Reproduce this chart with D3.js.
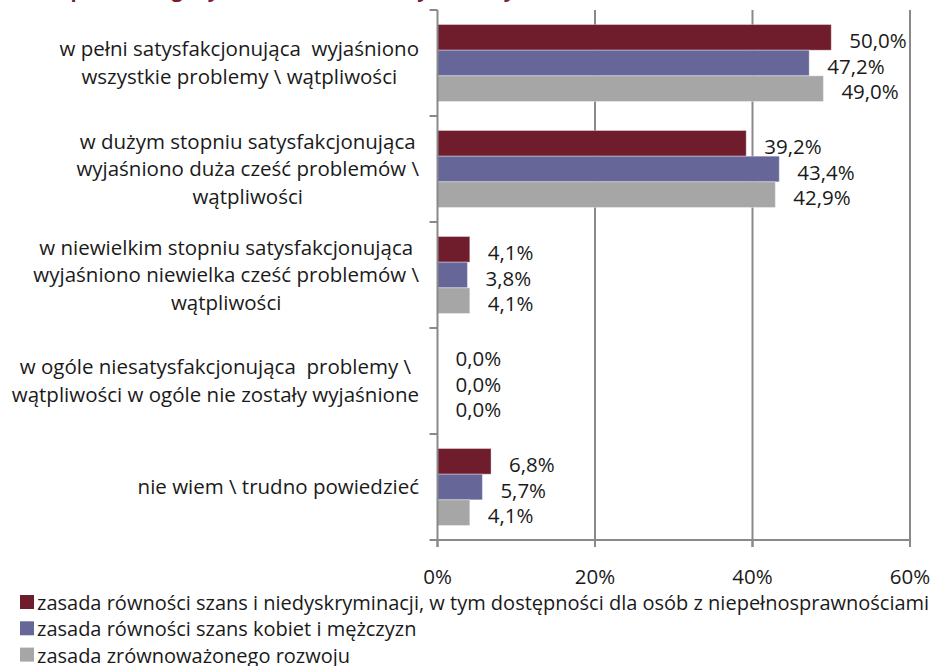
<!DOCTYPE html>
<html><head><meta charset="utf-8">
<script src="https://cdn.jsdelivr.net/npm/d3@7"></script>
<style>
body{margin:0;background:#fff;}
svg{display:block;font-family:"Open Sans",sans-serif;}
text{white-space:pre;}
</style></head>
<body><svg id="c" width="941" height="666"></svg>
<script>
const titleText = "Ocena poziomu zgody na temat zasad horyzontalnych";
const categories = [
  ["w pełni satysfakcjonująca  wyjaśniono","wszystkie problemy \\ wątpliwości"],
  ["w dużym stopniu satysfakcjonująca","wyjaśniono duża cześć problemów \\","wątpliwości"],
  ["w niewielkim stopniu satysfakcjonująca","wyjaśniono niewielka cześć problemów \\","wątpliwości"],
  ["w ogóle niesatysfakcjonująca  problemy \\","wątpliwości w ogóle nie zostały wyjaśnione"],
  ["nie wiem \\ trudno powiedzieć"]
];
const seriesNames = [
  "zasada równości szans i niedyskryminacji, w tym dostępności dla osób z niepełnosprawnościami",
  "zasada równości szans kobiet i mężczyzn",
  "zasada zrównoważonego rozwoju"
];
const s1 = [50.0, 39.2, 4.1, 0.0, 6.8];
const s2 = [47.2, 43.4, 3.8, 0.0, 5.7];
const s3 = [49.0, 42.9, 4.1, 0.0, 4.1];
const xTicks = [0, 20, 40, 60];
const colors = ["#6f1d2d", "#666699", "#a6a6a6"];

const series = [s1, s2, s3];
const svg = d3.select("#c");
const fmt = v => v.toFixed(1).replace(".", ",") + "%";
const catKeys = categories.map((c, i) => i);
const FS = 20.5;
const textColor = "#1a1a1a";

const x = d3.scaleLinear().domain([0, 60]).range([437.5, 910]);
const y = d3.scaleBand().domain(catKeys).range([10, 540]).paddingInner(0.274).paddingOuter(0.137);
const ys = d3.scaleBand().domain([0, 1, 2]).range([0, y.bandwidth()]);
const gridColor = "#898989";

// title (cut off at top)
svg.append("text").attr("x", 2).attr("y", -3)
  .attr("font-size", 20).attr("font-weight", "bold").attr("fill", "#7a1b2f")
  .text(titleText);

// vertical grid lines
svg.append("g").selectAll("line").data(xTicks.slice(1)).join("line")
  .attr("x1", d => x(d)).attr("x2", d => x(d)).attr("y1", 10).attr("y2", 547)
  .attr("stroke", gridColor).attr("stroke-width", 2);

// bars
const gBars = svg.append("g");
series.forEach((vals, si) => {
  gBars.selectAll(null).data(vals).join("rect")
    .attr("x", x(0)).attr("y", (d, i) => y(i) + ys(si))
    .attr("width", d => x(d) - x(0)).attr("height", ys.bandwidth())
    .attr("fill", colors[si]).attr("stroke", "#ffffff").attr("stroke-opacity", 0.35).attr("stroke-width", 1);
  gBars.selectAll(null).data(vals).join("text")
    .attr("x", d => x(d) + 18).attr("y", (d, i) => y(i) + ys(si) + ys.bandwidth() / 2 + 10.5)
    .attr("font-size", FS).attr("fill", textColor)
    .text(d => fmt(d));
});

// left axis
const yAxisG = svg.append("g");
yAxisG.append("line").attr("x1", x(0)).attr("x2", x(0)).attr("y1", 10).attr("y2", 547)
  .attr("stroke", gridColor).attr("stroke-width", 2);
const bounds = catKeys.map(k => y(k) - y.step() * y.paddingInner() / 2).concat([540]);
yAxisG.selectAll("line.t").data(bounds).join("line").attr("class", "t")
  .attr("x1", x(0) - 8).attr("x2", x(0)).attr("y1", d => d).attr("y2", d => d)
  .attr("stroke", gridColor).attr("stroke-width", 2);

// category labels: block right-aligned, lines centered within block
const lh = 27.5;
const labelRight = 419;
svg.append("g").selectAll("text").data(categories).join("text")
  .attr("font-size", FS).attr("fill", textColor).attr("text-anchor", "middle")
  .each(function(lines, i) {
    const cy = y(i) + y.bandwidth() / 2;
    const t = d3.select(this);
    const spans = lines.map((ln, j) => t.append("tspan")
        .attr("y", cy + (j - (lines.length - 1) / 2) * lh + 7)
        .text(ln));
    const maxW = d3.max(spans, s => s.node().getComputedTextLength());
    spans.forEach(s => s.attr("x", labelRight - maxW / 2));
  });

// bottom axis
const xAxisG = svg.append("g");
xAxisG.append("line").attr("x1", x(0) - 1).attr("x2", x(60) + 1).attr("y1", 540).attr("y2", 540)
  .attr("stroke", gridColor).attr("stroke-width", 2);
xAxisG.selectAll("line.t").data(xTicks).join("line").attr("class", "t")
  .attr("x1", d => x(d)).attr("x2", d => x(d)).attr("y1", 540).attr("y2", 547)
  .attr("stroke", gridColor).attr("stroke-width", 2);
xAxisG.selectAll("text").data(xTicks).join("text")
  .attr("x", d => x(d)).attr("y", 583.5).attr("text-anchor", "middle")
  .attr("font-size", FS).attr("fill", textColor)
  .text(d => d + "%");

// legend
const lg = svg.append("g");
seriesNames.forEach((n, i) => {
  const base = 610 + i * 26.3;
  lg.append("rect").attr("x", 20).attr("y", base - 15).attr("width", 14).attr("height", 14).attr("fill", colors[i]);
  lg.append("text").attr("x", 37).attr("y", base).attr("font-size", 20)
    .attr("fill", textColor).text(n);
});
</script></body></html>
